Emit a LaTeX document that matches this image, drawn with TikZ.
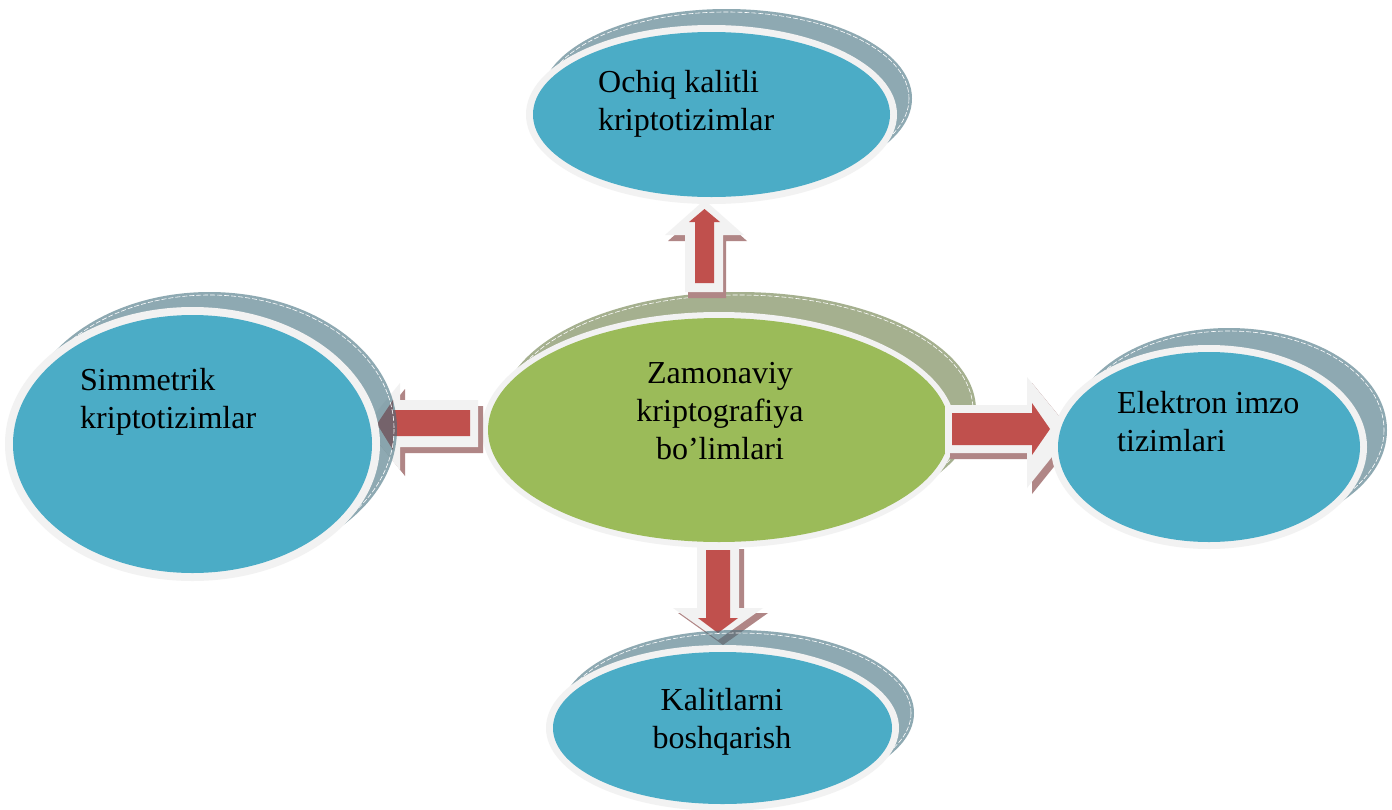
\documentclass[tikz,border=0pt]{standalone}
\usepackage{fontspec}
\setmainfont{Liberation Serif}
\definecolor{bubbleblue}{HTML}{4BACC6}
\definecolor{bubblegreen}{HTML}{9BBB59}
\definecolor{ringgray}{HTML}{F2F2F2}
\definecolor{shadowblue}{HTML}{44717F}
\definecolor{shadowgreen}{HTML}{A5B08F}
\definecolor{arrowred}{HTML}{C0504D}
\definecolor{arrowshadow}{HTML}{B08686}
\newcommand{\mybubble}[9]{%
  % #1 cx, #2 cy, #3 rx, #4 ry, #5 fill, #6 shadow style, #7 dx, #8 dy, #9 ring
  \fill[#6] (#1+#7,#2+#8) ellipse [x radius=#3+#9, y radius=#4+#9];
  \draw[white, line width=0.6pt, dash pattern=on 5pt off 2pt] (#1+#7,#2+#8) ellipse [x radius=#3+#9-3, y radius=#4+#9-3];
  \fill[ringgray] (#1,#2) ellipse [x radius=#3+#9, y radius=#4+#9];
  \fill[#5] (#1,#2) ellipse [x radius=#3, y radius=#4];
}
\tikzset{
  label/.style={inner sep=0pt, font=\fontsize{32}{38}\selectfont, text=black},
  graybody/.style={fill=ringgray},
  redbody/.style={fill=arrowred},
  arrshadow/.style={fill=arrowshadow},
  blueshadow/.style={fill=shadowblue, fill opacity=0.6},
  greenshadow/.style={fill=shadowgreen}
}
\begin{document}
\begin{tikzpicture}[x=1pt,y=-1pt]
\useasboundingbox[fill=white] (0,0) rectangle (1392,809);

% centre bubble
\mybubble{719}{430}{231}{112}{bubblegreen}{greenshadow}{20}{-20}{6}
\node[label, align=center, anchor=north] (centre) at (720,362) {Zamonaviy\\kriptografiya\\bo’limlari};

% arrows
% up
\begin{scope}[shift={(3,6)}]
\fill[arrshadow] (685,292) -- (685,235) -- (665,235) -- (704.5,200) -- (744,235) -- (723,235) -- (723,292) -- cycle;
\end{scope}
\fill[graybody] (685,292) -- (685,235) -- (665,235) -- (704.5,200) -- (744,235) -- (723,235) -- (723,292) -- cycle;
\fill[redbody] (695,283) -- (695,222) -- (689,222) -- (704.5,209) -- (720,222) -- (714,222) -- (714,283) -- cycle;
% down
\begin{scope}[shift={(5,5)}]
\fill[arrshadow] (697,544) -- (697,608) -- (673,608) -- (718,640) -- (763,608) -- (739,608) -- (739,544) -- cycle;
\end{scope}
\fill[graybody] (697,544) -- (697,608) -- (673,608) -- (718,640) -- (763,608) -- (739,608) -- (739,544) -- cycle;
\fill[redbody] (706,550) -- (706,618) -- (698,618) -- (718,633) -- (738,618) -- (730,618) -- (730,550) -- cycle;
% left
\begin{scope}[shift={(5,6)}]
\fill[arrshadow] (478,400) -- (400,400) -- (400,383) -- (365,426) -- (400,470) -- (400,447) -- (478,447) -- cycle;
\end{scope}
\fill[graybody] (478,400) -- (400,400) -- (400,383) -- (365,426) -- (400,470) -- (400,447) -- (478,447) -- cycle;
\fill[redbody] (470,410) -- (393,410) -- (393,400) -- (377,424) -- (393,450) -- (393,436) -- (470,436) -- cycle;
% right
\begin{scope}[shift={(5,6)}]
\fill[arrshadow] (945,405) -- (1027,405) -- (1027,377) -- (1072,432) -- (1027,488) -- (1027,453) -- (945,453) -- cycle;
\end{scope}
\fill[graybody] (945,405) -- (1027,405) -- (1027,377) -- (1072,432) -- (1027,488) -- (1027,453) -- (945,453) -- cycle;
\fill[redbody] (952,413) -- (1032,413) -- (1032,403) -- (1050,429) -- (1032,455) -- (1032,445) -- (952,445) -- cycle;

% outer bubbles
\mybubble{711.5}{114.5}{178.5}{82.5}{bubbleblue}{blueshadow}{15}{-16}{7}
\node[label, align=left, anchor=north west] (top) at (598,70) {Ochiq kalitli\\kriptotizimlar};

\mybubble{192.5}{444}{179.5}{129}{bubbleblue}{blueshadow}{17}{-15}{8}
\node[label, align=left, anchor=north west] (left) at (80,368) {Simmetrik\\kriptotizimlar};

\mybubble{1209}{447}{151}{95}{bubbleblue}{blueshadow}{20}{-17}{7}
\node[label, align=left, anchor=north west] (right) at (1117,391) {Elektron imzo\\tizimlari};

\mybubble{722.5}{728}{169.5}{76}{bubbleblue}{blueshadow}{15}{-15}{7}
\node[label, align=center, anchor=north] (bottom) at (722,688) {Kalitlarni\\boshqarish};
\end{tikzpicture}
\end{document}
